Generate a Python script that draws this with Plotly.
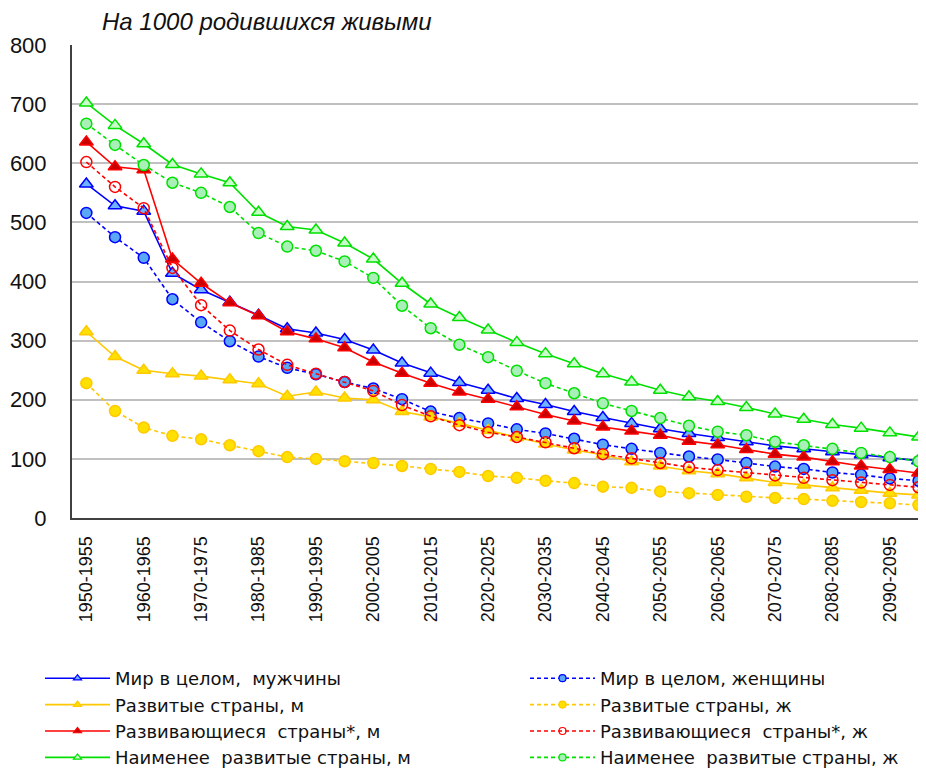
import plotly.graph_objects as go

periods = [f"{y}-{y+5}" for y in range(1950, 2100, 5)]
tick_labels = [p for i, p in enumerate(periods) if i % 2 == 0]

world_m = [565, 528, 519, 414, 386, 365, 343, 320, 313, 302, 284, 262, 245, 229, 216, 202, 192, 180, 170, 160, 151, 143, 136, 129, 122, 117, 112, 107, 102, 97]
world_f = [516, 475, 440, 370, 331, 299, 273, 254, 243, 230, 219, 201, 180, 169, 160, 150, 143, 134, 124, 117, 110, 104, 99, 93, 87, 83, 77, 73, 67, 63]
dev_m = [315, 273, 250, 244, 240, 234, 227, 206, 213, 203, 200, 180, 171, 160, 148, 136, 125, 115, 107, 95, 88, 80, 75, 68, 60, 56, 51, 47, 42, 39]
dev_f = [228, 181, 153, 139, 133, 123, 113, 103, 100, 96, 93, 88, 83, 78, 71, 68, 63, 59, 53, 51, 45, 42, 39, 36, 34, 32, 29, 27, 25, 22]
devg_m = [636, 594, 589, 438, 397, 364, 342, 315, 303, 288, 264, 245, 228, 213, 201, 188, 175, 164, 154, 147, 140, 130, 124, 116, 108, 103, 95, 88, 82, 76]
devg_f = [602, 560, 524, 423, 360, 317, 285, 259, 244, 230, 215, 191, 172, 157, 145, 137, 128, 118, 108, 101, 93, 86, 81, 77, 72, 68, 64, 60, 56, 52]
least_m = [702, 664, 633, 598, 582, 567, 517, 493, 487, 465, 438, 397, 362, 339, 318, 297, 278, 261, 244, 230, 216, 205, 197, 187, 176, 167, 158, 152, 144, 137]
least_f = [667, 631, 597, 567, 550, 526, 482, 459, 452, 434, 406, 359, 321, 293, 272, 249, 228, 211, 194, 181, 169, 156, 146, 140, 129, 123, 117, 110, 103, 96]

names = [
    "Мир в целом,  мужчины", "Мир в целом, женщины",
    "Развитые страны, м", "Развитые страны, ж",
    "Развивающиеся  страны*, м", "Развивающиеся  страны*, ж",
    "Наименее  развитые страны, м", "Наименее  развитые страны, ж",
]

# (values, name, line color, marker symbol, marker fill, marker edge, dashed, legend, rank)
series = [
    (world_m, names[0], "#0000FF", "triangle-up", "#6FB4FF", "#0000FF", False, "legend", 1),
    (world_f, names[1], "#0000FF", "circle", "#5AA8F5", "#0000FF", True, "legend2", 1),
    (dev_m, names[2], "#FFC800", "triangle-up", "#FFE000", "#FFC800", False, "legend", 2),
    (dev_f, names[3], "#FFC800", "circle", "#FFE000", "#FFC800", True, "legend2", 2),
    (devg_m, names[4], "#FF0000", "triangle-up", "#C80000", "#FF0000", False, "legend", 3),
    (devg_f, names[5], "#FF0000", "circle", "rgba(255,255,255,0)", "#FF0000", True, "legend2", 3),
    (least_m, names[6], "#00E000", "triangle-up", "#C8FFC8", "#00E000", False, "legend", 4),
    (least_f, names[7], "#00E000", "circle", "#A8F0B8", "#00E000", True, "legend2", 4),
]

fig = go.Figure()
for vals, name, lc, sym, fill, edge, dashed, leg, rank in series:
    dash = "4px,3px" if dashed else "solid"
    fig.add_trace(go.Scatter(
        x=periods, y=vals, name=name, mode="lines+markers",
        line=dict(color=lc, width=1.6, dash=dash),
        marker=dict(symbol=sym, size=11 if sym == "circle" else 12,
                    color=fill, line=dict(color=edge, width=1.5)),
        showlegend=False,
    ))
for vals, name, lc, sym, fill, edge, dashed, leg, rank in series:
    dash = "4px,3px" if dashed else "solid"
    fig.add_trace(go.Scatter(
        x=[None], y=[None], name=name, mode="lines+markers",
        line=dict(color=lc, width=1.6, dash=dash),
        marker=dict(symbol=sym, size=7, color=fill, line=dict(color=edge, width=1.2)),
        legend=leg, legendrank=rank, showlegend=True,
    ))

# page is offset 8px by the browser's default body margin
W, H = 918, 761
PL, PT, PH = 64, 37, 473
PW = W - PL

leg_common = dict(
    orientation="v", yanchor="top", xanchor="left", itemwidth=65,
    font=dict(size=18, family="DejaVu Sans, sans-serif", color="#111111"),
    tracegroupgap=0, bgcolor="rgba(0,0,0,0)",
)
leg_y = -(652 - (PT + PH)) / PH

fig.update_layout(
    width=W, height=H,
    margin=dict(l=PL, r=0, t=PT, b=H - PT - PH, autoexpand=False),
    paper_bgcolor="white", plot_bgcolor="white",
    font=dict(family="Liberation Sans, Arial, sans-serif", color="#111111"),
    showlegend=True,
    legend=dict(x=(32 - PL) / PW, y=leg_y, **leg_common),
    legend2=dict(x=(517 - PL) / PW, y=leg_y, **leg_common),
    annotations=[dict(
        text="<i>На 1000 родившихся живыми</i>", xref="paper", yref="paper",
        x=(92 - PL) / PW, y=1.0, xanchor="left", yanchor="bottom", yshift=8,
        showarrow=False, font=dict(size=24, color="#111111"),
    )],
)

fig.update_xaxes(
    type="category", range=[-0.5, 29.26], automargin=False,
    tickvals=tick_labels, ticktext=tick_labels, tickangle=-90,
    tickfont=dict(size=18, color="#111111"),
    showgrid=False, showline=True, linecolor="#404040", linewidth=2,
    ticks="", ticklabelstandoff=9,
)
fig.update_yaxes(
    range=[0, 800], tickvals=[0, 100, 200, 300, 400, 500, 600, 700, 800],
    automargin=False,
    tickfont=dict(size=22, color="#111111"),
    showgrid=True, gridcolor="#C0C0C0", gridwidth=2,
    showline=True, linecolor="#404040", linewidth=2,
    zeroline=False, ticks="", ticklabelstandoff=19,
)

fig.write_html("out.html")
